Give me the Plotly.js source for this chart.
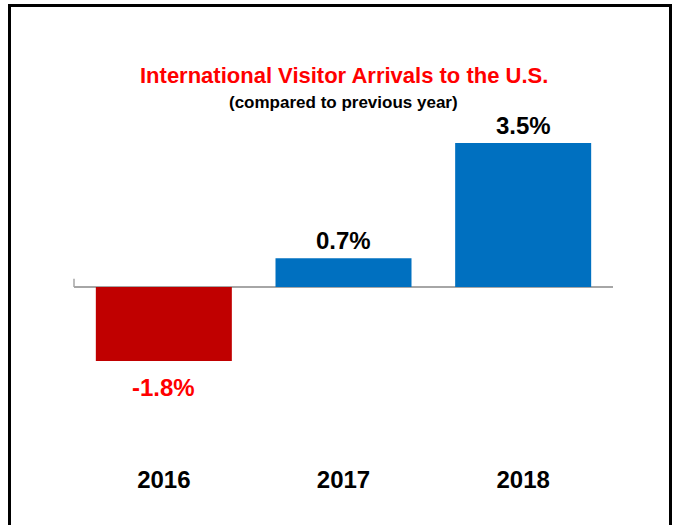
<!DOCTYPE html>
<html>
<head>
<meta charset="utf-8">
<script src="https://cdn.plot.ly/plotly-3.0.1.min.js"></script>
<style>
  html, body { margin: 0; padding: 0; background: #ffffff; overflow: hidden; }
  #frame { position: absolute; left: 8px; top: 4px; width: 664px; height: 540px; border: 3px solid #000; box-sizing: border-box; }
  #chart { position: absolute; left: 0; top: 0; width: 676px; height: 525px; }
</style>
</head>
<body>
<div id="frame"></div>
<div id="chart"></div>
<script>
const categories = ['2016', '2017', '2018'];
const changePct = [-1.8, 0.7, 3.5];
const barColors = ['#C00000', '#0070C0', '#0070C0'];
const labelColors = ['#FF0000', '#000000', '#000000'];
const titleText = 'International Visitor Arrivals to the U.S.';
const subtitleText = '(compared to previous year)';

const FONT = 'Liberation Sans, Arial, sans-serif';

const trace = {
  type: 'bar',
  x: categories,
  y: changePct,
  marker: { color: barColors, line: { width: 0 } },
  hoverinfo: 'skip'
};

// value labels placed at each bar's category index on the category axis
const valueLabels = categories.map((c, i) => ({
  x: i,
  y: changePct[i],
  xref: 'x',
  yref: 'y',
  text: changePct[i].toFixed(1) + '%',
  showarrow: false,
  xanchor: 'center',
  yanchor: changePct[i] >= 0 ? 'bottom' : 'top',
  yshift: changePct[i] >= 0 ? 2 : -11,
  font: { family: FONT, size: 24, weight: 'bold', color: labelColors[i] }
}));

const layout = {
  width: 676,
  height: 525,
  margin: { l: 74, r: 63, t: 120, b: 62 },
  paper_bgcolor: 'rgba(0,0,0,0)',
  plot_bgcolor: 'rgba(0,0,0,0)',
  bargap: 0.243,
  showlegend: false,
  xaxis: {
    type: 'category',
    categoryorder: 'array',
    categoryarray: categories,
    range: [-0.5, categories.length - 0.5],
    autorange: false,
    showline: false,
    showgrid: false,
    zeroline: false,
    ticks: '',
    tickfont: { family: FONT, size: 24, weight: 'bold', color: '#000000' }
  },
  yaxis: {
    range: [-4.28, 4.06],
    autorange: false,
    showgrid: false,
    showline: false,
    showticklabels: false,
    ticks: '',
    zeroline: true,
    zerolinecolor: '#A6A6A6',
    zerolinewidth: 1.5
  },
  shapes: [
    {
      type: 'line', xref: 'paper', yref: 'y', x0: 0, x1: 0, y0: 0, y1: 0.2,
      line: { color: '#A6A6A6', width: 1.5 }
    }
  ],
  annotations: [
    {
      text: titleText, xref: 'paper', yref: 'paper', x: 0.5, y: 1.1297,
      xanchor: 'center', yanchor: 'middle', showarrow: false,
      font: { family: FONT, size: 22, weight: 'bold', color: '#FF0000' }
    },
    {
      text: subtitleText, xref: 'paper', yref: 'paper', x: 0.5, y: 1.0496,
      xanchor: 'center', yanchor: 'middle', showarrow: false,
      font: { family: FONT, size: 17, weight: 'bold', color: '#000000' }
    }
  ].concat(valueLabels)
};

Plotly.newPlot('chart', [trace], layout, { displayModeBar: false, staticPlot: true });
</script>
</body>
</html>
